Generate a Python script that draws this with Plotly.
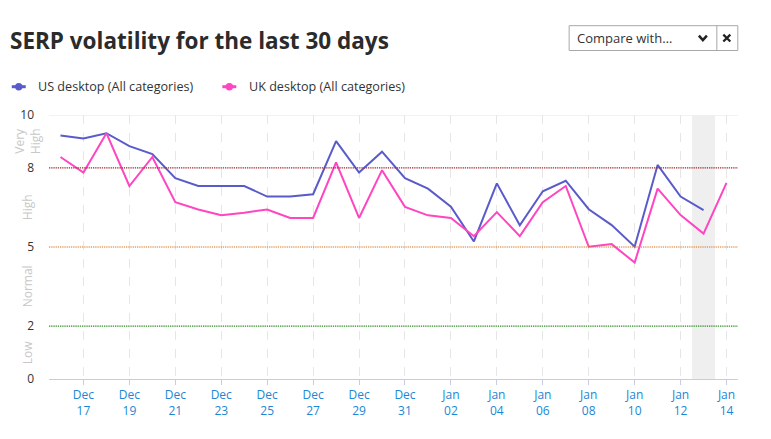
import plotly.graph_objects as go
import pandas as pd

dates = pd.date_range("2023-12-16", "2024-01-14", freq="D")

us_values = [9.22, 9.11, 9.31, 8.82, 8.52, 7.61, 7.31, 7.31, 7.31, 6.91, 6.91, 7.00,
             9.01, 7.82, 8.61, 7.61, 7.21, 6.53, 5.21, 7.41, 5.82, 7.11, 7.51, 6.43,
             5.83, 5.01, 8.11, 6.91, 6.40, None]
uk_values = [8.41, 7.82, 9.31, 7.31, 8.41, 6.70, 6.42, 6.20, 6.30, 6.42, 6.10, 6.10,
             8.21, 6.10, 7.91, 6.52, 6.20, 6.10, 5.41, 6.32, 5.41, 6.70, 7.31, 5.01,
             5.11, 4.41, 7.21, 6.21, 5.51, 7.43]

series_names = ["US desktop (All categories)", "UK desktop (All categories)"]

tick_dates = pd.date_range("2023-12-17", "2024-01-14", freq="2D")
tick_labels = [f"{d.strftime('%b')}<br>{d.strftime('%d')}" for d in tick_dates]

y_ticks = [0, 2, 5, 8, 10]
thresholds = [8, 5, 2]
threshold_colors = ["#a0282a", "#d8751c", "#2e8a22"]
zones = [("Very<br>High", 9.0), ("High", 6.5), ("Normal", 3.5), ("Low", 1.0)]

# page has an 8px body margin; work in page pixels and convert
OFF = 8
W, H = 755, 423
L = 47.3 - OFF
R = W - (737.7 - OFF)
T = 115 - OFF
B = H - (381 - OFF)
pw, ph = W - L - R, H - T - B


def px(x):
    return (x - OFF - L) / pw


def py(y):
    return (H - B - (y - OFF)) / ph


FONT = "Open Sans"
US_COLOR = "#5a5bcb"
UK_COLOR = "#ff45c0"
colors = [US_COLOR, UK_COLOR]

fig = go.Figure()
for name, vals, col in zip(series_names, [us_values, uk_values], colors):
    fig.add_trace(go.Scatter(x=dates, y=vals, mode="lines", name=name,
                             line=dict(color=col, width=2), showlegend=False))

shapes = []
shapes.append(dict(type="rect", xref="x", yref="y",
                   x0=pd.Timestamp("2024-01-12 12:00"), x1=pd.Timestamp("2024-01-13 12:00"),
                   y0=0, y1=10, fillcolor="#efefef", line=dict(width=0), layer="below"))
shapes.append(dict(type="line", xref="paper", yref="y", x0=0, x1=1, y0=10, y1=10,
                   line=dict(color="#e6e6e6", width=1), layer="below"))
for t, c in zip(thresholds, threshold_colors):
    shapes.append(dict(type="line", xref="paper", yref="y", x0=0, x1=1, y0=t, y1=t,
                       line=dict(color=c, width=1.2, dash="1.3px,0.9px"), layer="above"))

# compare box
shapes.append(dict(type="rect", xref="paper", yref="paper",
                   x0=px(568.5), x1=px(737.5), y0=py(50), y1=py(25),
                   line=dict(color="#a8a8a8", width=1), fillcolor="white"))
shapes.append(dict(type="line", xref="paper", yref="paper",
                   x0=px(716.5), x1=px(716.5), y0=py(50), y1=py(25),
                   line=dict(color="#a8a8a8", width=1)))
shapes.append(dict(type="path", xref="paper", yref="paper",
                   path=f"M {px(698.5)},{py(35)} L {px(702.5)},{py(39.5)} L {px(706.5)},{py(35)}",
                   line=dict(color="#222", width=2.5)))
shapes.append(dict(type="path", xref="paper", yref="paper",
                   path=f"M {px(723)},{py(34)} L {px(730)},{py(41)} M {px(730)},{py(34)} L {px(723)},{py(41)}",
                   line=dict(color="#222", width=2.2)))

annotations = []
# manual legend
legend_x = [17, 228]
for name, col, lx in zip(series_names, colors, legend_x):
    shapes.append(dict(type="line", xref="paper", yref="paper",
                       x0=px(lx - 7), x1=px(lx + 7), y0=py(86.5), y1=py(86.5),
                       line=dict(color=col, width=3)))
    shapes.append(dict(type="circle", xref="paper", yref="paper",
                       x0=px(lx - 3.7), x1=px(lx + 3.7), y0=py(90.2), y1=py(82.8),
                       fillcolor=col, line=dict(color=col, width=0)))
    annotations.append(dict(text=name, xref="paper", yref="paper", x=px(lx + 17.5), y=py(86),
                            xanchor="left", yanchor="middle", showarrow=False,
                            font=dict(family=FONT, size=12.6, color="#333")))

for text, yv in zones:
    annotations.append(dict(text=text, xref="paper", yref="y", x=px(26), y=yv,
                            xanchor="center", yanchor="middle", showarrow=False, textangle=-90,
                            font=dict(family=FONT, size=12, color="#c8c8c8")))
annotations.append(dict(text="Compare with…", xref="paper", yref="paper", x=px(574.5), y=py(37.5),
                        xanchor="left", yanchor="middle", showarrow=False,
                        font=dict(family=FONT, size=13, color="#333")))
annotations.append(dict(text="<b>SERP volatility for the last 30 days</b>", xref="paper", yref="paper",
                        x=px(6), y=py(39.5), xanchor="left", yanchor="middle", showarrow=False,
                        font=dict(family=FONT, size=22.5, color="#2b2b2b")))

fig.update_layout(
    width=W, height=H,
    margin=dict(l=L, r=R, t=T, b=B),
    paper_bgcolor="white", plot_bgcolor="white",
    font=dict(family=FONT, size=12, color="#333"),
    showlegend=False,
    shapes=shapes,
    annotations=annotations,
    xaxis=dict(type="date",
               range=[pd.Timestamp("2023-12-15 12:00"), pd.Timestamp("2024-01-14 12:00")],
               tickvals=tick_dates, ticktext=tick_labels,
               showgrid=True, gridcolor="#e6e6e6", griddash="dash", gridwidth=1,
               showline=True, linecolor="#c5cde0", linewidth=1,
               ticks="outside", ticklen=5, tickcolor="#c5cde0",
               tickfont=dict(family=FONT, size=12, color="#1a87d6"), zeroline=False),
    yaxis=dict(range=[0, 10], tickvals=y_ticks, showgrid=False, zeroline=False,
               showline=False, ticks="", ticklabelstandoff=14,
               tickfont=dict(family=FONT, size=12, color="#333")),
    hovermode=False,
)

fig.write_html("out.html")
